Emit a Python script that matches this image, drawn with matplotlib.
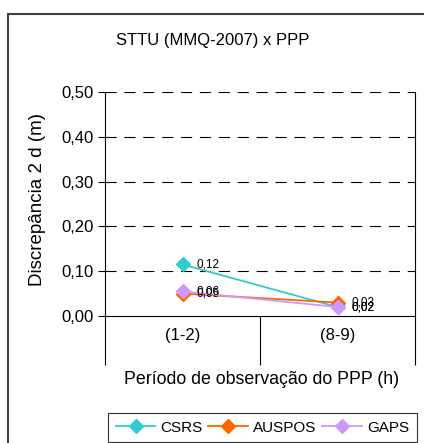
import matplotlib.pyplot as plt
from matplotlib.patches import Rectangle

plt.rcParams['font.family'] = ['Liberation Sans', 'DejaVu Sans']

periodos = ["(1-2)", "(8-9)"]
csrs = [0.115, 0.02]
auspos = [0.05, 0.03]
gaps = [0.055, 0.02]
rotulos_csrs = ["0,12", "0,02"]
rotulos_auspos = ["0,05", "0,03"]
rotulos_gaps = ["0,06", "0,02"]
yticks = [0.0, 0.1, 0.2, 0.3, 0.4, 0.5]
ytick_labels = ["0,00", "0,10", "0,20", "0,30", "0,40", "0,50"]

fig = plt.figure(figsize=(4.24, 4.43), dpi=100)
W, H = 424, 443
ax = fig.add_axes([105 / W, 1 - 316 / H, 310 / W, 224 / H])

# moldura externa do grafico
fig.patches.append(Rectangle((8 / W, -0.1), 1.2, 1 - 14 / H + 0.1,
                             transform=fig.transFigure, fill=False,
                             edgecolor="#404040", linewidth=1.5))

x = [0.5, 1.5]
series = [("CSRS", csrs, rotulos_csrs, "#33CCCC"),
          ("AUSPOS", auspos, rotulos_auspos, "#FF6600"),
          ("GAPS", gaps, rotulos_gaps, "#CC99FF")]
for nome, vals, rot, cor in series:
    ax.plot(x, vals, color=cor, marker="D", markersize=7, linewidth=1.3,
            label=nome, clip_on=False, zorder=3)
    for xi, v, r in zip(x, vals, rot):
        ax.annotate(r, (xi, v), xytext=(10, 0), textcoords="offset points",
                    fontsize=8.5, va="center", ha="left", color="black")

ax.set_xlim(0, 2)
ax.set_ylim(0, 0.5)
ax.set_yticks(yticks)
ax.set_yticklabels(ytick_labels, fontsize=12)
for yv in yticks[1:]:
    ax.axhline(yv, color="black", linestyle=(0, (10, 7)), linewidth=0.8)

ax.set_xticks([0, 1, 2])
ax.set_xticklabels([])
ax.tick_params(axis="x", direction="out", length=35, width=0.8)
ax.tick_params(axis="y", direction="out", length=5, width=0.8, pad=3)
for xi, p in zip(x, periodos):
    ax.text(xi, -0.089, p, ha="center", va="center", fontsize=12,
            transform=ax.get_xaxis_transform())
ax.spines["top"].set_visible(False)
for s in ["left", "bottom", "right"]:
    ax.spines[s].set_linewidth(0.8)

fig.text(213 / W, 1 - 40 / H, "STTU (MMQ-2007) x PPP", ha="center",
         va="center", fontsize=12)
fig.text(262 / W, 1 - 380 / H, "Período de observação do PPP (h)",
         ha="center", va="center", fontsize=12.8)
fig.text(38 / W, 1 - 199 / H, "Discrepância 2 d (m)", rotation=90,
         ha="center", va="center", fontsize=13.5)

leg = fig.legend(loc="upper left", bbox_to_anchor=(108 / W, 1 - 413 / H),
                 ncol=3, frameon=True, fancybox=False, fontsize=11,
                 handlelength=2.6, columnspacing=0.35, handletextpad=0.35,
                 borderpad=0.5, borderaxespad=0)
leg.get_frame().set_edgecolor("black")
leg.get_frame().set_linewidth(0.8)

fig.savefig("out.png", dpi=100)
